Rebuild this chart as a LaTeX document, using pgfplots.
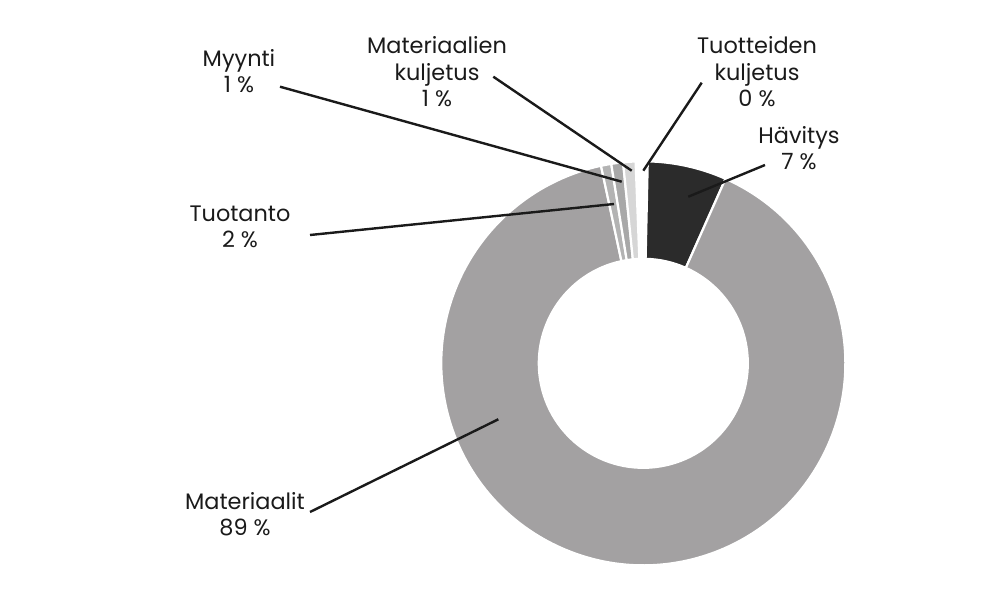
\documentclass[border=0pt]{standalone}
\usepackage{pgfplots}
\usepackage{pgfplotstable}
\pgfplotsset{compat=1.18}
\usepackage{fontspec}
\setmainfont{Poppins}
\definecolor{cHav}{HTML}{2B2B2B}
\definecolor{cMat}{HTML}{A3A1A2}
\definecolor{cTuo}{HTML}{B3B3B3}
\definecolor{cMyy}{HTML}{A8A8A8}
\definecolor{cMk}{HTML}{D6D6D6}
\definecolor{cTk}{HTML}{FFFFFF}
\definecolor{cLine}{HTML}{1A1A1A}
% share of each slice (percent), clockwise from the top
\pgfplotstableread{
name value color
Tuotteiden_kuljetus 0.96 cTk
Havitys 6.32 cHav
Materiaalit 89.97 cMat
Tuotanto 0.82 cTuo
Myynti 0.94 cMyy
Materiaalien_kuljetus 0.99 cMk
}\slices
\begin{document}
\begin{tikzpicture}
\begin{axis}[
  x=0.5pt, y=0.5pt,
  xmin=0, xmax=1000, ymin=0, ymax=583,
  hide axis, clip=false,
]
\path (axis cs:0,0) rectangle (axis cs:1000,583);
\pgfmathsetmacro{\cur}{92.19}
\pgfplotsforeachungrouped \i in {0,...,5} {%
  \pgfplotstablegetelem{\i}{value}\of\slices \let\v=\pgfplotsretval
  \pgfplotstablegetelem{\i}{color}\of\slices \let\c=\pgfplotsretval
  \pgfmathsetmacro{\nxt}{\cur-3.6*\v}%
  \edef\temp{\noexpand\filldraw[fill=\c, draw=white, line width=1.1pt]
    ([shift={(\cur:101pt)}]axis cs:643.3,219.7)
    arc[start angle=\cur, end angle=\nxt, radius=101pt]
    -- ([shift={(\nxt:52.25pt)}]axis cs:643.3,219.7)
    arc[start angle=\nxt, end angle=\cur, radius=52.25pt] -- cycle;}%
  \temp
  \let\cur=\nxt
}
% leader lines
\draw[cLine, line width=1.2pt] (axis cs:280,496.3) -- (axis cs:621.7,401.3);
\draw[cLine, line width=1.2pt] (axis cs:493.3,506.3) -- (axis cs:631.7,412.3);
\draw[cLine, line width=1.2pt] (axis cs:701.7,500.3) -- (axis cs:643.3,412.3);
\draw[cLine, line width=1.2pt] (axis cs:765,418) -- (axis cs:688.3,386.3);
\draw[cLine, line width=1.2pt] (axis cs:310,348) -- (axis cs:614,379);
\draw[cLine, line width=1.2pt] (axis cs:310,71) -- (axis cs:498.3,163.7);
% labels
\tikzset{lab/.style={align=center, text=cLine, font=\fontsize{11.2}{13.3}\selectfont, inner sep=0pt}}
\node[lab] at (axis cs:239,512) {Myynti\\1 \%};
\node[lab] at (axis cs:437,511) {Materiaalien\\kuljetus\\1 \%};
\node[lab] at (axis cs:757,511) {Tuotteiden\\kuljetus\\0 \%};
\node[lab] at (axis cs:799,435) {Hävitys\\7 \%};
\node[lab] at (axis cs:240,356) {Tuotanto\\2 \%};
\node[lab] at (axis cs:245,69) {Materiaalit\\89 \%};
\end{axis}
\end{tikzpicture}
\end{document}
